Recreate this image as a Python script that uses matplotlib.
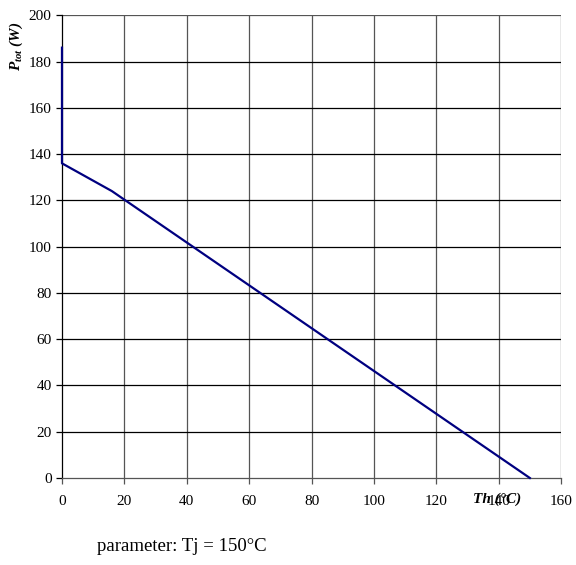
import matplotlib
matplotlib.use("Agg")
import matplotlib.pyplot as plt

# derating curve: heatsink temperature vs total power
th_c = [0, 0, 16, 150]
p_tot_w = [186, 136, 124, 0]
x_ticks = [0, 20, 40, 60, 80, 100, 120, 140, 160]
y_ticks = [0, 20, 40, 60, 80, 100, 120, 140, 160, 180, 200]

plt.rcParams['font.family'] = ['Liberation Serif', 'DejaVu Serif']
plt.rcParams['mathtext.fontset'] = 'custom'
plt.rcParams['mathtext.rm'] = 'Liberation Serif'
plt.rcParams['mathtext.it'] = 'Liberation Serif:italic'
plt.rcParams['mathtext.bf'] = 'Liberation Serif:bold:italic'

fig = plt.figure(figsize=(5.76, 5.65), dpi=100)
ax = fig.add_axes([0.1076, 0.154, 0.8664, 0.819])

# grid: vertical lines grey, horizontal black
for x in x_ticks[1:]:
    ax.axvline(x, color='#555555', linewidth=0.9, zorder=1)
for y in y_ticks[1:-1]:
    ax.axhline(y, color='black', linewidth=0.9, zorder=1)
ax.axhline(200, color='#555555', linewidth=0.9, zorder=1)

ax.plot(th_c, p_tot_w, color='#000080', linewidth=1.6, zorder=5, clip_on=False)

ax.set_xlim(0, 160)
ax.set_ylim(0, 200)
ax.set_xticks(x_ticks)
ax.set_yticks(y_ticks)
ax.tick_params(labelsize=11, length=4, width=0.9, direction='out', colors='black')
ax.tick_params(axis='x', pad=8, color='#555555')
for s in ['top', 'right']:
    ax.spines[s].set_visible(False)
ax.spines['left'].set_color('black')
ax.spines['left'].set_linewidth(0.9)
ax.spines['left'].set_zorder(2)
ax.spines['bottom'].set_color('#555555')
ax.spines['bottom'].set_linewidth(0.9)

fig.text(0.029, 0.918, r'$\mathbf{P}_{\mathbf{tot}}\ \mathbf{(W)}$', rotation=90,
         ha='center', va='center', fontsize=11)

ax.text(139.5, -9.2, 'Th (°C)', ha='center', va='center', fontsize=11,
        fontweight='bold', fontstyle='italic', clip_on=False)

fig.text(0.168, 0.033, 'parameter: Tj = 150°C', fontsize=13.5, ha='left', va='center')

fig.savefig('out.png', dpi=100)
